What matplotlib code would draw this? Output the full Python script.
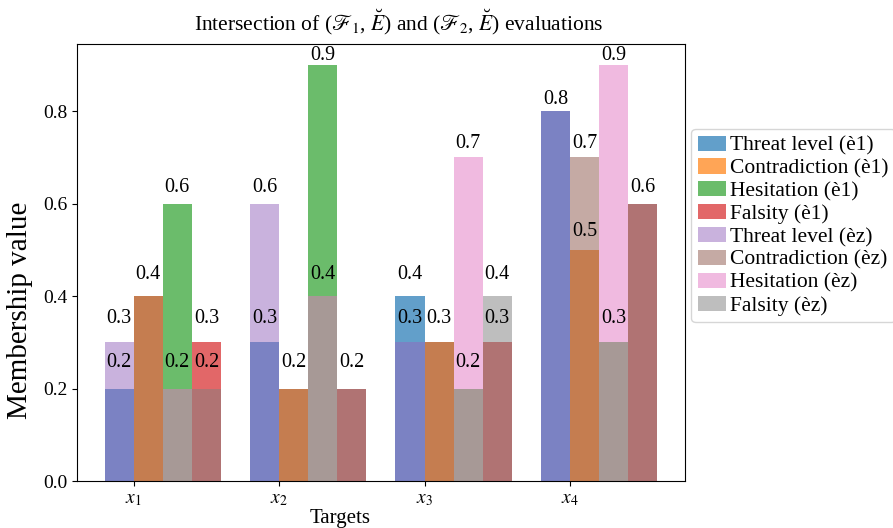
import numpy as np
import matplotlib.pyplot as plt

plt.rcParams['font.family'] = ['Liberation Serif', 'DejaVu Serif']
plt.rcParams['mathtext.fontset'] = 'stix'
plt.rcParams['font.size'] = 14

targets = ['$x_1$', '$x_2$', '$x_3$', '$x_4$']
criteria = ['Threat level', 'Contradiction', 'Hesitation', 'Falsity']

# first evaluation (è1)
threat_1 = [0.2, 0.3, 0.4, 0.8]
contradiction_1 = [0.4, 0.2, 0.3, 0.5]
hesitation_1 = [0.6, 0.9, 0.2, 0.3]
falsity_1 = [0.3, 0.2, 0.3, 0.6]

# second evaluation (èz)
threat_2 = [0.3, 0.6, 0.3, 0.8]
contradiction_2 = [0.4, 0.2, 0.3, 0.7]
hesitation_2 = [0.2, 0.4, 0.7, 0.9]
falsity_2 = [0.2, 0.2, 0.4, 0.6]

eval_1 = [threat_1, contradiction_1, hesitation_1, falsity_1]
eval_2 = [threat_2, contradiction_2, hesitation_2, falsity_2]
colors_1 = ['tab:blue', 'tab:orange', 'tab:green', 'tab:red']
colors_2 = ['tab:purple', 'tab:brown', 'tab:pink', 'tab:gray']

x = np.arange(len(targets))
width = 0.2

fig = plt.figure(figsize=(8.93, 5.28), dpi=100)
ax = fig.add_subplot(111)
fig.subplots_adjust(left=0.0862, right=0.767, bottom=0.089, top=0.9167)


def add_labels(bars, skip=None):
    for i, b in enumerate(bars):
        h = b.get_height()
        if skip is not None and skip[i] == h:
            continue  # same value already labelled
        ax.text(b.get_x() + b.get_width() / 2, h * 0.95 + 0.045, f'{h}',
                ha='center', va='bottom', fontsize=14.5)


for k, (vals, c, name) in enumerate(zip(eval_1, colors_1, criteria)):
    bars = ax.bar(x + (k - 0.5) * width, vals, width, color=c, alpha=0.7,
                  label=f'{name} (è1)')
    add_labels(bars)

for k, (vals, c, name) in enumerate(zip(eval_2, colors_2, criteria)):
    bars = ax.bar(x + (k - 0.5) * width, vals, width, color=c, alpha=0.5,
                  label=f'{name} (èz)')
    add_labels(bars, skip=eval_1[k])

ax.set_xticks(x)
ax.set_xticklabels(targets)
ax.set_xlabel('Targets', fontsize=15, labelpad=0)
ax.xaxis.set_label_coords(0.433, -0.065)
ax.set_ylabel('Membership value', fontsize=21)
ax.yaxis.set_label_coords(-0.072, 0.39)
ax.set_title(r'Intersection of ($\mathscr{F}_1$, $\breve{E}$) and ($\mathscr{F}_2$, $\breve{E}$) evaluations',
             fontsize=15.5, pad=10, x=0.53)
ax.legend(loc='upper left', bbox_to_anchor=(1.0, 0.82), fontsize=15.5,
          labelspacing=0.13, handlelength=1.3, handletextpad=0.2,
          borderpad=0.3, borderaxespad=0.3)

plt.savefig('out.png', dpi=100)
